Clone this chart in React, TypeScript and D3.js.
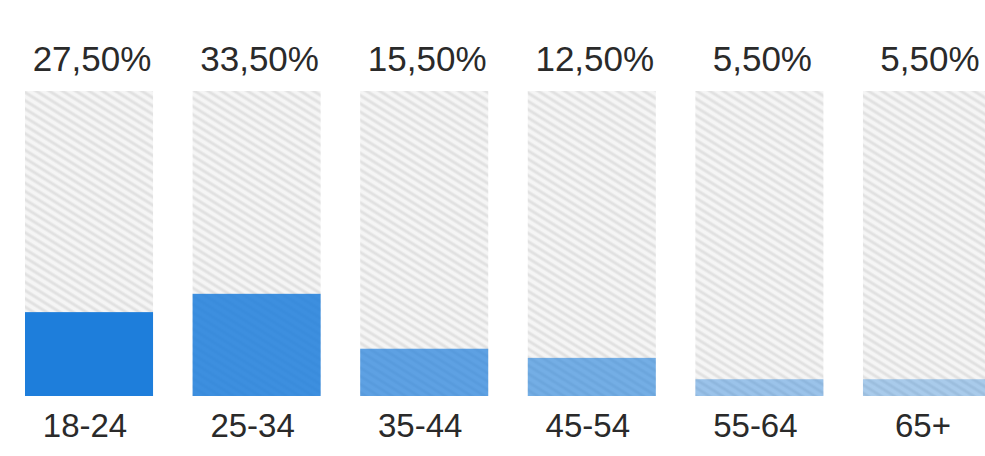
import React from "react";
import * as d3 from "d3";

const ageGroups = ["18-24", "25-34", "35-44", "45-54", "55-64", "65+"];
const shares = [27.5, 33.5, 15.5, 12.5, 5.5, 5.5]; // percent
const shareLabels = ["27,50%", "33,50%", "15,50%", "12,50%", "5,50%", "5,50%"];

// fill opacity of the blue part, fading left to right
const barOpacity = [1, 0.86, 0.7, 0.6, 0.42, 0.35];

const W = 985;
const H = 456;

const App: React.FC = () => {
  const x = d3
    .scaleBand<string>()
    .domain(ageGroups)
    .range([25, 991])
    .paddingInner(0.236)
    .paddingOuter(0);

  const y = d3.scaleLinear().domain([0, 100]).range([396, 91]);

  const font = "'Liberation Sans', Arial, Helvetica, sans-serif";

  return (
    <svg
      width={W}
      height={H}
      style={{ position: "absolute", left: 0, top: 0, background: "#fff" }}
    >
      <defs>
        <pattern
          id="hatch"
          width={12}
          height={7}
          patternUnits="userSpaceOnUse"
          patternTransform="rotate(32)"
        >
          <rect width={12} height={7} fill="#f5f5f5" />
          <line x1={0} x2={12} y1={2} y2={2} stroke="#e1e1e1" strokeWidth={3} />
        </pattern>
      </defs>

      {ageGroups.map((g, i) => {
        const x0 = x(g) as number;
        const bw = x.bandwidth();
        const cx = x0 + bw / 2;
        return (
          <g key={g}>
            <rect
              x={x0}
              y={y(100)}
              width={bw}
              height={y(0) - y(100)}
              fill="url(#hatch)"
            />
            <rect
              x={x0}
              y={y(shares[i])}
              width={bw}
              height={y(0) - y(shares[i])}
              fill="#1e7edb"
              fillOpacity={barOpacity[i]}
            />
            <text
              x={cx + 3}
              y={71}
              textAnchor="middle"
              fontFamily={font}
              fontSize={35}
              fill="#2a2a2a"
            >
              {shareLabels[i]}
            </text>
            <text
              x={cx - 4}
              y={437}
              textAnchor="middle"
              fontFamily={font}
              fontSize={33}
              fill="#2a2a2a"
            >
              {g}
            </text>
          </g>
        );
      })}
    </svg>
  );
};

export default App;
